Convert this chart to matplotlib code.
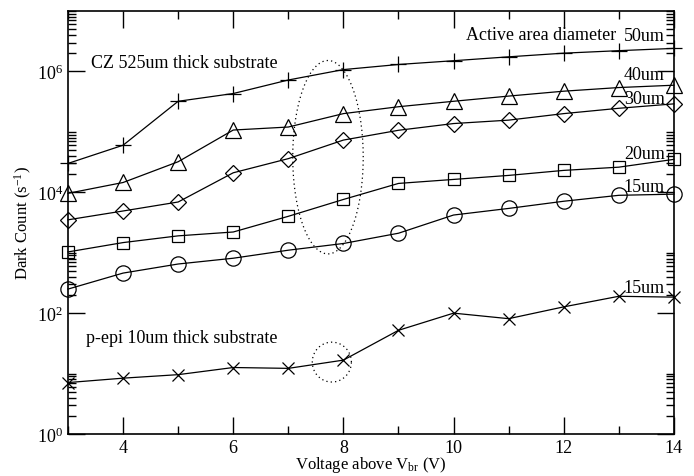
import numpy as np
import matplotlib
matplotlib.use("Agg")
import matplotlib.pyplot as plt
from matplotlib.ticker import FixedLocator, LogFormatterMathtext

plt.rcParams['font.family'] = ['Liberation Serif', 'DejaVu Serif']
plt.rcParams['mathtext.fontset'] = 'custom'
plt.rcParams['mathtext.rm'] = 'Liberation Serif'
plt.rcParams['mathtext.it'] = 'Liberation Serif:italic'
plt.rcParams['font.size'] = 12

# bias voltage above breakdown (V)
voltage = [3, 4, 5, 6, 7, 8, 9, 10, 11, 12, 13, 14]

# CZ 525um thick substrate, dark count (s^-1) per active area diameter
cz_50um = [3.0e4, 6.0e4, 3.2e5, 4.3e5, 7.2e5, 1.07e6, 1.3e6, 1.5e6, 1.74e6, 2.0e6, 2.2e6, 2.4e6]
cz_40um = [9.6e3, 1.45e4, 3.2e4, 1.07e5, 1.2e5, 2.0e5, 2.6e5, 3.2e5, 3.9e5, 4.7e5, 5.4e5, 5.9e5]
cz_30um = [3.5e3, 4.9e3, 6.9e3, 2.1e4, 3.6e4, 7.3e4, 1.06e5, 1.37e5, 1.56e5, 2.0e5, 2.45e5, 2.9e5]
cz_20um = [1.03e3, 1.47e3, 1.9e3, 2.2e3, 4.0e3, 7.6e3, 1.4e4, 1.63e4, 1.9e4, 2.3e4, 2.6e4, 3.5e4]
cz_15um = [250, 460, 650, 810, 1.1e3, 1.42e3, 2.1e3, 4.2e3, 5.4e3, 7.1e3, 8.9e3, 9.3e3]

# p-epi 10um thick substrate, 15um diameter
epi_15um = [7.1, 8.4, 9.6, 12.6, 12.2, 16.7, 52, 100, 81, 127, 190, 184]

fig = plt.figure(figsize=(6.94, 4.77), dpi=100)
ax = fig.add_axes([0.098, 0.088, 0.873, 0.887])

kw = dict(color="black", lw=0.9, mfc="none", mec="black", mew=0.9, clip_on=False)
ax.plot(voltage, cz_50um, marker="+", ms=12, **kw)
ax.plot(voltage, cz_40um, marker="^", ms=11, **kw)
ax.plot(voltage, cz_30um, marker="D", ms=8, **kw)
ax.plot(voltage, cz_20um, marker="s", ms=9, **kw)
ax.plot(voltage, cz_15um, marker="o", ms=11, **kw)
ax.plot(voltage, epi_15um, marker="x", ms=8, **kw)

# dotted ellipses highlighting the 8 V points (drawn in x / log10(y) space)
t = np.linspace(0, 2 * np.pi, 200)
big_cx, big_cy, big_rx, big_ry = 7.72, 4.58, 0.64, 1.6
ax.plot(big_cx + big_rx * np.cos(t), 10 ** (big_cy + big_ry * np.sin(t)),
        color="black", lw=0.9, ls=(0, (1, 2.5)))
sm_cx, sm_cy, sm_rx, sm_ry = 7.79, 1.19, 0.355, 0.33
ax.plot(sm_cx + sm_rx * np.cos(t), 10 ** (sm_cy + sm_ry * np.sin(t)),
        color="black", lw=0.9, ls=(0, (1, 2.5)))

ax.set_xlim(3, 14)
ax.set_yscale("log")
ax.set_ylim(1, 1e7)

ax.xaxis.set_major_locator(FixedLocator([4, 6, 8, 10, 12, 14]))
ax.xaxis.set_minor_locator(FixedLocator([3, 5, 7, 9, 11, 13]))
ax.yaxis.set_major_locator(FixedLocator([1, 1e2, 1e4, 1e6]))
ax.yaxis.set_major_formatter(LogFormatterMathtext())
minor = [k * 10.0 ** d for d in (0, 2, 4, 6) for k in range(2, 11)]
ax.yaxis.set_minor_locator(FixedLocator(minor))
ax.yaxis.set_minor_formatter(plt.NullFormatter())

ax.tick_params(which="both", direction="in", top=True, right=True, width=1.0, labelsize=13)
ax.tick_params(which="major", length=12)
ax.tick_params(which="minor", length=6)
for s in ax.spines.values():
    s.set_linewidth(1.2)

ax.set_xlabel("Voltage above V$_{\\rm br}$ (V)", fontsize=12, labelpad=-1)
ax.set_ylabel("Dark Count (s$^{-1}$)", fontsize=12, labelpad=2)

ax.text(0.038, 0.877, "CZ 525um thick substrate", transform=ax.transAxes, fontsize=13, va="center")
ax.text(0.030, 0.229, "p-epi 10um thick substrate", transform=ax.transAxes, fontsize=13, va="center")
ax.text(0.905, 0.944, "Active area diameter", transform=ax.transAxes, fontsize=13, va="center", ha="right")
ax.text(0.985, 0.942, "50um", transform=ax.transAxes, fontsize=13, va="center", ha="right")
ax.text(0.985, 0.850, "40um", transform=ax.transAxes, fontsize=13, va="center", ha="right")
ax.text(0.985, 0.792, "30um", transform=ax.transAxes, fontsize=13, va="center", ha="right")
ax.text(0.985, 0.662, "20um", transform=ax.transAxes, fontsize=13, va="center", ha="right")
ax.text(0.985, 0.584, "15um", transform=ax.transAxes, fontsize=13, va="center", ha="right")
ax.text(0.985, 0.347, "15um", transform=ax.transAxes, fontsize=13, va="center", ha="right")

fig.savefig("out.png", dpi=100)
